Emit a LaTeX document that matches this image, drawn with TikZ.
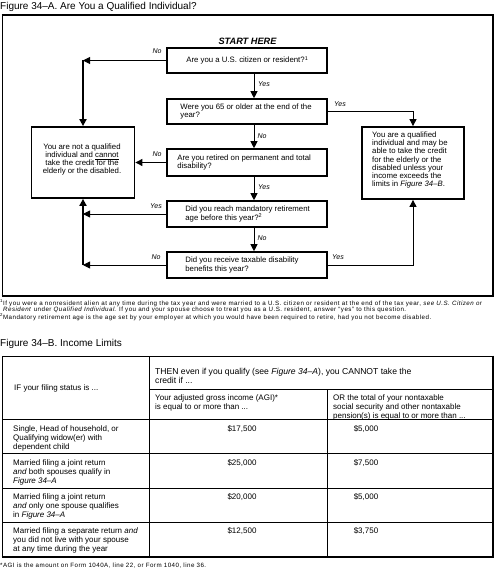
\documentclass[tikz,border=0pt]{standalone}
\usepackage{fontspec}
\setmainfont{Liberation Sans}
\newfontfamily\fnfont[LetterSpace=7.5]{Liberation Sans}
\usetikzlibrary{arrows.meta}
\newcommand{\fcfont}{\fontsize{7.8pt}{8.3pt}\selectfont}
\newcommand{\lblfont}{\fontsize{7pt}{8pt}\selectfont\itshape}
\newcommand{\tbfont}{\fontsize{8pt}{9pt}\selectfont}
\newcommand{\thfont}{\fontsize{8.6pt}{9pt}\selectfont}
\newcommand{\ttlfont}{\fontsize{10pt}{12pt}\selectfont}
\newcommand{\fnsize}{\fnfont\fontsize{6.2pt}{6.3pt}\selectfont}
\begin{document}
\begin{tikzpicture}[x=1pt,y=-1pt,
  >={Triangle[length=7pt,width=7pt]},
  qbox/.style={draw,line width=1.6pt,minimum width=160pt,minimum height=25pt,inner sep=0pt},
  rbox/.style={draw,line width=1.8pt,inner sep=0pt},
  qtext/.style={font=\fcfont,align=left,inner sep=0pt,anchor=west},
  lbl/.style={font=\lblfont,inner sep=0pt},
  conn/.style={line width=0.9pt},
  trunk/.style={line width=2.6pt},
  tline/.style={line width=0.8pt},
  heavy/.style={line width=2pt},
  ttext/.style={font=\tbfont,align=left,inner sep=0pt,anchor=north west},
  tval/.style={font=\tbfont,inner sep=0pt,anchor=north},
  fn/.style={font=\fnsize,align=left,inner sep=0pt,anchor=north west},
  ttl/.style={font=\ttlfont,inner sep=0pt,anchor=west}
]
\useasboundingbox (0,0) rectangle (495,572);

% ---------- Figure 34-A ----------
\node[ttl] (titleA) at (0,7) {Figure 34–A. Are You a Qualified Individual?};
\draw[tline] (2,15) -- (2,296);
\draw[line width=1.6pt] (1.6,15) -- (493,15);
\draw[heavy] (493,14.2) -- (493,296);
\draw[heavy] (1.6,296) -- (494,296);

\node[font=\fontsize{9.2pt}{10pt}\selectfont\bfseries\itshape,inner sep=0pt] (start) at (247.5,41) {START HERE};

\node[qbox,minimum height=25pt] (q1) at (247,60.5) {};
\node[qbox,minimum height=25pt] (q2) at (247,111.5) {};
\node[qbox,minimum height=27pt] (q3) at (247,162.5) {};
\node[qbox,minimum height=26pt] (q4) at (247,214) {};
\node[qbox,minimum height=26pt] (q5) at (247,265) {};
\node[rbox,minimum width=103pt,minimum height=71pt] (nq) at (83,162.5) {};
\node[rbox,minimum width=102pt,minimum height=72pt] (yq) at (413,163) {};

\node[qtext] (q1t) at ([xshift=20pt]q1.west) {Are you a U.S. citizen or resident?\textsuperscript{1}};
\node[qtext] (q2t) at ([xshift=14pt]q2.west) {Were you 65 or older at the end of the\\year?};
\node[qtext] (q3t) at ([xshift=11pt]q3.west) {Are you retired on permanent and total\\disability?};
\node[qtext] (q4t) at ([xshift=19pt]q4.west) {Did you reach mandatory retirement\\age before this year?\textsuperscript{2}};
\node[qtext] (q5t) at ([xshift=19pt]q5.west) {Did you receive taxable disability\\benefits this year?};

\node[font=\fcfont,align=center,inner sep=0pt] (nqt) at (82,159.5) {You are not a qualified\\individual and \underline{cannot}\\take the credit for the\\elderly or the disabled.};
\node[qtext] (yqt) at (372,160) {You are a qualified\\individual and may be\\able to take the credit\\for the elderly or the\\disabled unless your\\income exceeds the\\limits in \textit{Figure 34–B}.};

% connectors
\coordinate (lx1) at (nq.north |- q1.west);
\draw[conn,->] (q1.west) -- (lx1);
\draw[trunk,->] (lx1) -- (nq.north);
\draw[conn,->] ([xshift=7pt]q1.south) -- ([xshift=7pt]q2.north);
\draw[conn,->] (q2.east) -- (q2.east -| yq.north) -- (yq.north);
\draw[conn,->] ([xshift=7pt]q2.south) -- ([xshift=7pt]q3.north);
\draw[conn,->] (q3.west) -- (q3.west -| nq.east);
\draw[conn,->] ([xshift=7pt]q3.south) -- ([xshift=7pt]q4.north);
\coordinate (lx4) at (q4.west -| nq.south);
\draw[conn,->] (q4.west) -- (lx4);
\draw[conn,->] ([xshift=7pt]q4.south) -- ([xshift=7pt]q5.north);
\coordinate (lx5) at (q5.west -| nq.south);
\draw[conn,->] (q5.west) -- (lx5);
\draw[trunk,->] (lx5) -- (nq.south);
\draw[conn,->] (q5.east) -- (q5.east -| yq.south) -- (yq.south);

% labels
\node[lbl] (l1) at (157,51) {No};
\node[lbl] (l2) at (264,84) {Yes};
\node[lbl] (l3) at (340,104) {Yes};
\node[lbl] (l4) at (262,136) {No};
\node[lbl] (l5) at (157,154) {No};
\node[lbl] (l6) at (264,187) {Yes};
\node[lbl] (l7) at (156,206) {Yes};
\node[lbl] (l8) at (262,238) {No};
\node[lbl] (l9) at (156,257) {No};
\node[lbl] (l10) at (338,257) {Yes};

% footnotes
\node[fn] (fnA) at (0,299.5) {\textsuperscript{1}If you were a nonresident alien at any time during the tax year and were married to a U.S. citizen or resident at the end of the tax year, \textit{see U.S. Citizen or}\\
\hspace*{3pt}\textit{Resident} under \textit{Qualified Individual}. If you and your spouse choose to treat you as a U.S. resident, answer “yes” to this question.\\
\textsuperscript{2}Mandatory retirement age is the age set by your employer at which you would have been required to retire, had you not become disabled.};

% ---------- Figure 34-B ----------
\node[ttl] (titleB) at (0,344) {Figure 34–B. Income Limits};

\draw[tline] (2,356) -- (493,356);
\draw[tline] (2,356) -- (2,557);
\draw[tline] (149,356) -- (149,557);
\draw[tline] (327,389) -- (327,557);
\draw[tline] (149,389) -- (493,389);
\draw[tline] (2,419) -- (493,419);
\draw[tline] (2,453) -- (493,453);
\draw[tline] (2,488) -- (493,488);
\draw[tline] (2,522) -- (493,522);
\draw[heavy] (493,355.6) -- (493,557);
\draw[heavy] (1.6,557) -- (494,557);

\node[font=\tbfont,inner sep=0pt,anchor=west] (h1) at (14,388) {IF your filing status is ...};
\node[font=\thfont,align=left,inner sep=0pt,anchor=north west] (h2) at (155,368.5) {THEN even if you qualify (see \textit{Figure 34–A}), you CANNOT take the\\credit if ...};
\node[ttext] (h3) at (155,394) {Your adjusted gross income (AGI)*\\is equal to or more than ...};
\node[ttext] (h4) at (333,394) {OR the total of your nontaxable\\social security and other nontaxable\\pension(s) is equal to or more than ...};

\node[ttext] (r1) at (13,425) {Single, Head of household, or\\Qualifying widow(er) with\\dependent child};
\node[tval] (r1a) at (242,425) {\$17,500};
\node[tval] (r1b) at (366,425) {\$5,000};

\node[ttext] (r2) at (13,459) {Married filing a joint return\\\textit{and} both spouses qualify in\\\textit{Figure 34–A}};
\node[tval] (r2a) at (242,459) {\$25,000};
\node[tval] (r2b) at (366,459) {\$7,500};

\node[ttext] (r3) at (13,493.5) {Married filing a joint return\\\textit{and} only one spouse qualifies\\in \textit{Figure 34–A}};
\node[tval] (r3a) at (242,493.5) {\$20,000};
\node[tval] (r3b) at (366,493.5) {\$5,000};

\node[ttext] (r4) at (13,527.5) {Married filing a separate return \textit{and}\\you did not live with your spouse\\at any time during the year};
\node[tval] (r4a) at (242,527.5) {\$12,500};
\node[tval] (r4b) at (366,527.5) {\$3,750};

\node[fn] (fnB) at (0,562.5) {*AGI is the amount on Form 1040A, line 22, or Form 1040, line 36.};
\end{tikzpicture}
\end{document}
